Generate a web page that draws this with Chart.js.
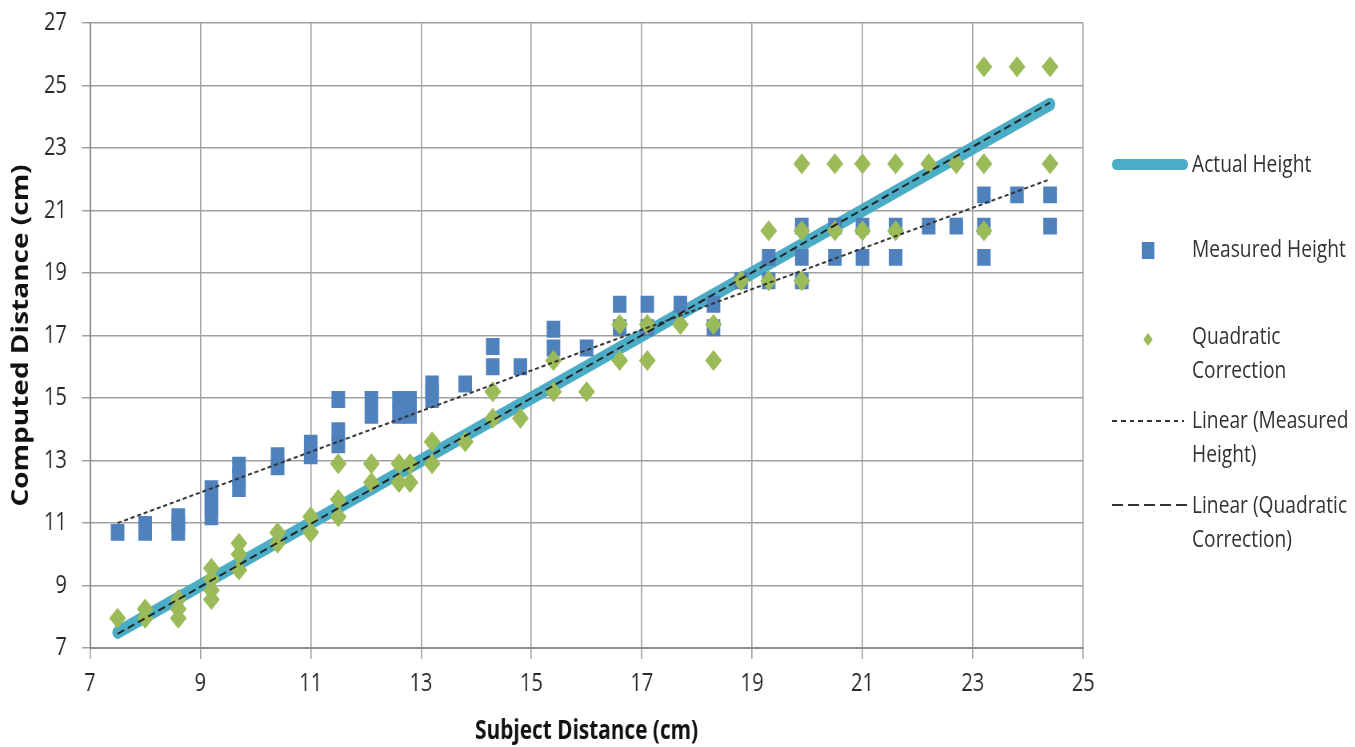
<!DOCTYPE html>
<html>
<head>
<meta charset="utf-8">
<script src="https://cdn.jsdelivr.net/npm/chart.js@4.4.0/dist/chart.umd.min.js"></script>
<style>
html, body { margin: 0; background: #fff; overflow: hidden; }
/* the original picture is squeezed horizontally, so draw wide and squeeze */
#wrap { position: relative; width: 1694px; height: 747px; transform: scaleX(0.8); transform-origin: 0 0; }
#legend { position: absolute; left: 0; top: 0; font-family: 'Open Sans', sans-serif; font-size: 24px; color: #333; }
.txt { position: absolute; left: 1490px; line-height: 34px; white-space: nowrap; }
.mk { position: absolute; }
</style>
</head>
<body>
<div id="wrap">
  <canvas id="chart" width="1694" height="747"></canvas>
  <div id="legend">
    <div class="mk" style="left:1390px;top:159px;width:95px;height:11px;border-radius:6px;background:#4BACC6"></div>
    <div class="txt" style="top:146px">Actual Height</div>
    <div class="mk" style="left:1427px;top:242px;width:16px;height:17px;background:#4F81BD"></div>
    <div class="txt" style="top:231px">Measured Height</div>
    <div class="mk" style="left:1429px;top:333px;width:12px;height:13px;background:#9BBB59;clip-path:polygon(50% 0,100% 50%,50% 100%,0 50%)"></div>
    <div class="txt" style="top:318px">Quadratic<br>Correction</div>
    <div class="mk" style="left:1390px;top:420px;width:90px;height:2px;background:repeating-linear-gradient(to right,#333 0 6px,transparent 6px 11px)"></div>
    <div class="txt" style="top:402px">Linear (Measured<br>Height)</div>
    <div class="mk" style="left:1390px;top:504px;width:94px;height:2px;background:repeating-linear-gradient(to right,#333 0 14px,transparent 14px 20px)"></div>
    <div class="txt" style="top:487px">Linear (Quadratic<br>Correction)</div>
  </div>
</div>
<script>
// Actual height (identity line)
const actualX = [7.5, 24.4];
const actualY = [7.5, 24.4];

// Measured height points
const measuredX = [
  7.5, 8, 8, 8.6, 8.6, 8.6, 9.2, 9.2, 9.2, 9.2, 9.7, 9.7, 9.7, 10.4, 10.4, 11, 11,
  11.5, 11.5, 11.5, 12.1, 12.1, 12.6, 12.6, 12.8, 12.8, 12.8, 13.2, 13.2, 13.2, 13.8,
  14.3, 14.3, 14.8, 15.4, 15.4, 16, 16.6, 16.6, 17.1, 17.1, 17.7, 18.3, 18.3, 18.8,
  19.3, 19.3, 19.9, 19.9, 19.9, 20.5, 20.5, 21, 21, 21.6, 21.6, 22.2, 22.7,
  23.2, 23.2, 23.2, 23.8, 24.4, 24.4
];
const measuredY = [
  10.7, 10.7, 10.95, 10.7, 10.95, 11.2, 11.2, 11.5, 11.8, 12.1, 12.1, 12.5, 12.85, 12.8, 13.15, 13.15, 13.55,
  13.5, 13.95, 14.95, 14.45, 14.95, 14.45, 14.95, 14.45, 14.75, 14.95, 14.95, 15.2, 15.45, 15.45,
  16.0, 16.65, 16.0, 16.6, 17.2, 16.6, 17.25, 18.0, 17.25, 18.0, 18.0, 17.25, 18.0, 18.75,
  18.75, 19.5, 18.75, 19.5, 20.5, 19.5, 20.5, 19.5, 20.5, 19.5, 20.5, 20.5, 20.5,
  19.5, 20.5, 21.5, 21.5, 20.5, 21.5
];

// Quadratic correction points
const quadX = [
  7.5, 8, 8, 8.6, 8.6, 8.6, 9.2, 9.2, 9.2, 9.2, 9.7, 9.7, 9.7, 10.4, 10.4, 11, 11,
  11.5, 11.5, 11.5, 12.1, 12.1, 12.6, 12.6, 12.8, 12.8, 13.2, 13.2, 13.8,
  14.3, 14.3, 14.8, 15.4, 15.4, 16, 16.6, 16.6, 17.1, 17.1, 17.7, 18.3, 18.3, 18.8,
  19.3, 19.3, 19.9, 19.9, 19.9, 20.5, 20.5, 21, 21, 21.6, 21.6, 22.2, 22.7,
  23.2, 23.2, 23.2, 23.8, 24.4, 24.4
];
const quadY = [
  7.95, 7.95, 8.25, 7.95, 8.25, 8.55, 8.55, 8.85, 9.2, 9.55, 9.5, 10.0, 10.35, 10.35, 10.7, 10.7, 11.2,
  11.2, 11.75, 12.9, 12.3, 12.9, 12.3, 12.9, 12.3, 12.9, 12.9, 13.6, 13.6,
  14.35, 15.2, 14.35, 15.2, 16.2, 15.2, 16.2, 17.35, 16.2, 17.35, 17.35, 16.2, 17.35, 18.75,
  18.75, 20.35, 18.75, 20.35, 22.5, 20.35, 22.5, 20.35, 22.5, 20.35, 22.5, 22.5, 22.5,
  20.35, 22.5, 25.6, 25.6, 22.5, 25.6
];

// Trendline end points
const trendMeasuredX = [7.5, 24.4];
const trendMeasuredY = [11.0, 22.0];
const trendQuadX = [7.5, 24.4];
const trendQuadY = [7.45, 24.45];

const xTicks = [7, 9, 11, 13, 15, 17, 19, 21, 23, 25];
const yTicks = [7, 9, 11, 13, 15, 17, 19, 21, 23, 25, 27];

const toPoints = (xs, ys) => xs.map((x, i) => ({ x: x, y: ys[i] }));

const tickFont = { family: "'Open Sans', sans-serif", size: 25 };
const gridColor = '#a0a0a0';

// drop the label overhang so the plot box sits where the original does
const noOverhang = s => { s.paddingTop = 0; s.paddingBottom = 0; s.paddingLeft = 0; s.paddingRight = 0; };

new Chart(document.getElementById('chart').getContext('2d'), {
    type: 'scatter',
    data: {
        datasets: [
            {
                label: 'Linear (Measured Height)',
                data: toPoints(trendMeasuredX, trendMeasuredY),
                showLine: true,
                borderColor: '#333',
                borderWidth: 2,
                borderDash: [5, 3.5],
                pointRadius: 0,
                order: 0
            },
            {
                label: 'Linear (Quadratic Correction)',
                data: toPoints(trendQuadX, trendQuadY),
                showLine: true,
                borderColor: '#222',
                borderWidth: 2,
                borderDash: [9, 5],
                pointRadius: 0,
                order: 0
            },
            {
                label: 'Quadratic Correction',
                data: toPoints(quadX, quadY),
                pointStyle: 'rectRot',
                pointRadius: 10.5,
                backgroundColor: '#9BBB59',
                borderColor: '#9BBB59',
                borderWidth: 0,
                order: 1
            },
            {
                label: 'Measured Height',
                data: toPoints(measuredX, measuredY),
                pointStyle: 'rect',
                pointRadius: 12,
                backgroundColor: '#4F81BD',
                borderColor: '#4F81BD',
                borderWidth: 0,
                order: 2
            },
            {
                label: 'Actual Height',
                data: toPoints(actualX, actualY),
                showLine: true,
                borderColor: '#4BACC6',
                borderWidth: 13,
                borderCapStyle: 'round',
                pointRadius: 0,
                order: 3
            }
        ]
    },
    options: {
        responsive: false,
        animation: false,
        layout: { padding: { left: 0, right: 340, top: 23, bottom: 0 } },
        plugins: {
            legend: { display: false },
            tooltip: { enabled: false }
        },
        scales: {
            x: {
                type: 'linear',
                min: 7,
                max: 25,
                afterBuildTicks: s => { s.ticks = xTicks.map(v => ({ value: v })); },
                afterFit: s => { s.height = 99; noOverhang(s); },
                grid: { color: gridColor, lineWidth: 1.6, tickLength: 11 },
                border: { color: '#8c8c8c', width: 2 },
                ticks: { color: '#2a2a2a', font: tickFont, padding: 10, maxRotation: 0 },
                title: {
                    display: true,
                    text: 'Subject Distance (cm)',
                    color: '#111',
                    font: { family: "'Open Sans', sans-serif", size: 26, weight: 'bold' },
                    padding: { top: 0, bottom: 0 }
                }
            },
            y: {
                type: 'linear',
                min: 7,
                max: 27,
                afterBuildTicks: s => { s.ticks = yTicks.map(v => ({ value: v })); },
                afterFit: s => { s.width = 112.5; noOverhang(s); },
                grid: { color: gridColor, lineWidth: 1.5, tickLength: 10 },
                border: { color: '#8c8c8c', width: 2 },
                ticks: { color: '#2a2a2a', font: tickFont, padding: 19 },
                title: {
                    display: true,
                    text: 'Computed Distance (cm)',
                    color: '#111',
                    font: { family: "'Open Sans', sans-serif", size: 28, weight: 'bold' },
                    padding: { top: 10, bottom: 0 }
                }
            }
        }
    }
});
</script>
</body>
</html>
